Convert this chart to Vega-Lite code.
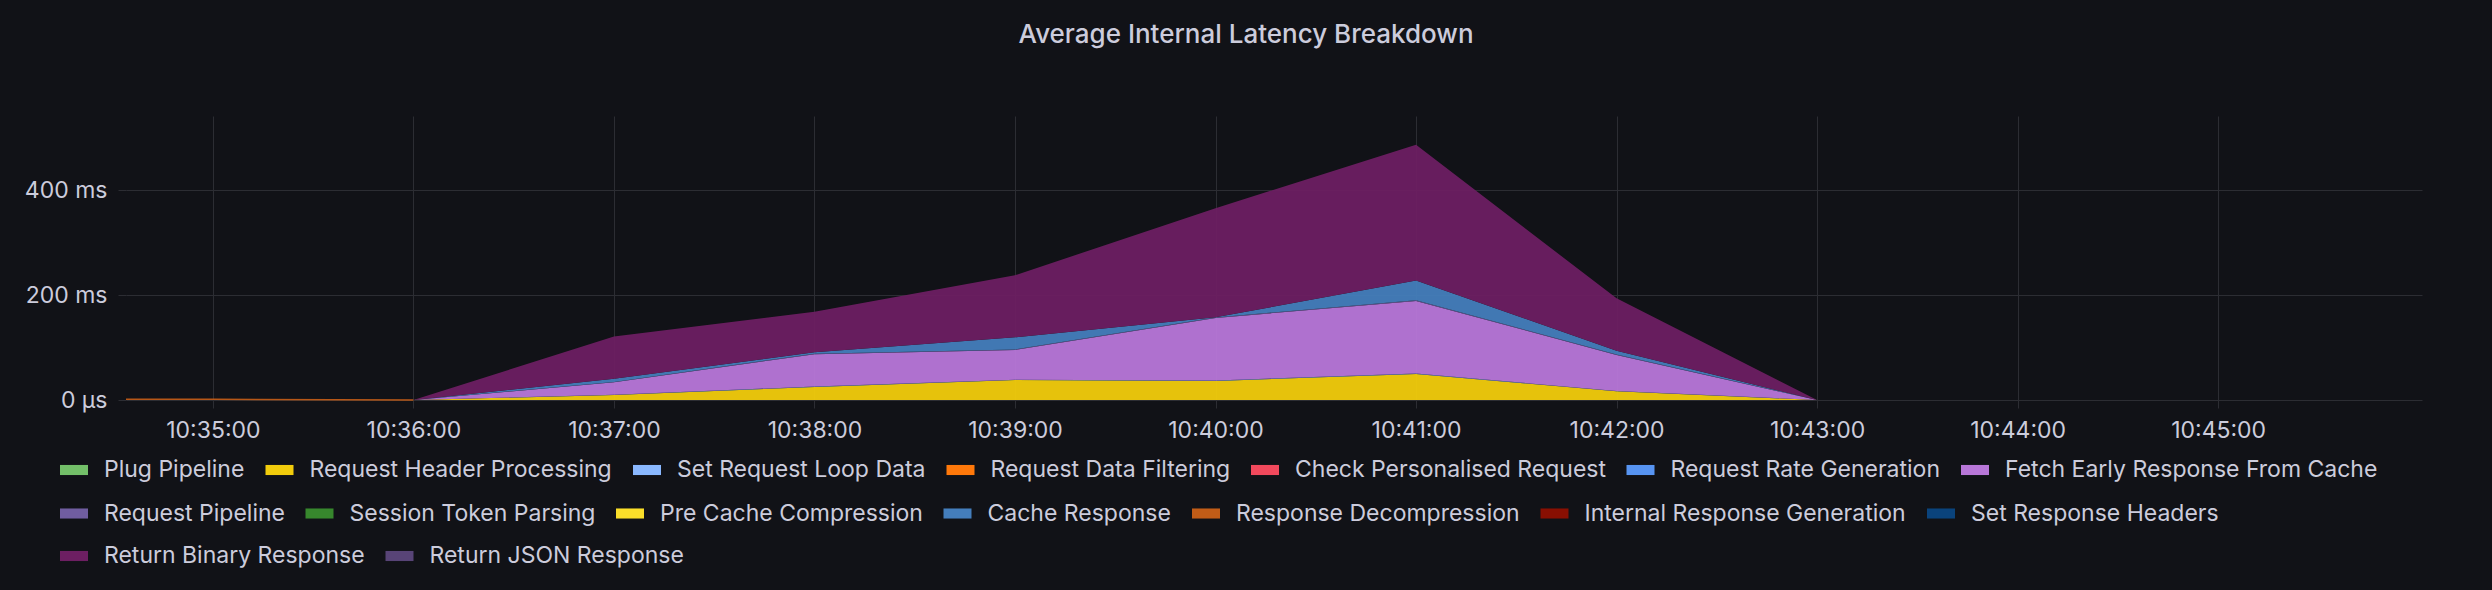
{
  "$schema": "https://vega.github.io/schema/vega-lite/v6.json",
  "width": 2296,
  "height": 284,
  "autosize": {"type": "none"},
  "padding": {"left": 126, "top": 116, "right": 70, "bottom": 190},
  "background": "#111217",
  "title": {
    "text": "Average Internal Latency Breakdown",
    "font": "Inter",
    "fontSize": 26,
    "fontWeight": 500,
    "color": "#ccccdc",
    "anchor": "middle",
    "frame": "group",
    "dx": -28,
    "offset": 68
  },
  "config": {
    "view": {"stroke": null},
    "axis": {
      "labelFont": "Inter",
      "labelFontSize": 23,
      "labelColor": "#ccccdc",
      "gridColor": "#2c2d33",
      "tickColor": "#2c2d33",
      "domain": false
    },
    "legend": {
      "labelFont": "Inter",
      "labelFontSize": 23,
      "labelColor": "#ccccdc",
      "labelLimit": 0,
      "title": null,
      "orient": "none",
      "legendX": -66,
      "direction": "horizontal",
      "columns": 7,
      "columnPadding": 20.5,
      "padding": 0,
      "symbolType": "M-1,-0.36H1V0.36H-1Z",
      "symbolSize": 784,
      "symbolStrokeWidth": 0,
      "symbolOpacity": 1,
      "labelOffset": 16
    }
  },
  "data": {
    "values": [
      {"t": "2024-01-01T10:36:00Z", "series": "Request Header Processing", "v": 0},
      {"t": "2024-01-01T10:37:00Z", "series": "Request Header Processing", "v": 9.5},
      {"t": "2024-01-01T10:38:00Z", "series": "Request Header Processing", "v": 25},
      {"t": "2024-01-01T10:39:00Z", "series": "Request Header Processing", "v": 38},
      {"t": "2024-01-01T10:40:00Z", "series": "Request Header Processing", "v": 36.3},
      {"t": "2024-01-01T10:41:00Z", "series": "Request Header Processing", "v": 49.7},
      {"t": "2024-01-01T10:42:00Z", "series": "Request Header Processing", "v": 16.5},
      {"t": "2024-01-01T10:43:00Z", "series": "Request Header Processing", "v": 0},
      {"t": "2024-01-01T10:36:00Z", "series": "Request Rate Generation", "v": 0},
      {"t": "2024-01-01T10:37:00Z", "series": "Request Rate Generation", "v": 0.5},
      {"t": "2024-01-01T10:38:00Z", "series": "Request Rate Generation", "v": 0.8},
      {"t": "2024-01-01T10:39:00Z", "series": "Request Rate Generation", "v": 0.8},
      {"t": "2024-01-01T10:40:00Z", "series": "Request Rate Generation", "v": 0.8},
      {"t": "2024-01-01T10:41:00Z", "series": "Request Rate Generation", "v": 1},
      {"t": "2024-01-01T10:42:00Z", "series": "Request Rate Generation", "v": 0.6},
      {"t": "2024-01-01T10:43:00Z", "series": "Request Rate Generation", "v": 0},
      {"t": "2024-01-01T10:36:00Z", "series": "Fetch Early Response From Cache", "v": 0},
      {"t": "2024-01-01T10:37:00Z", "series": "Fetch Early Response From Cache", "v": 23.7},
      {"t": "2024-01-01T10:38:00Z", "series": "Fetch Early Response From Cache", "v": 61.7},
      {"t": "2024-01-01T10:39:00Z", "series": "Fetch Early Response From Cache", "v": 56.7},
      {"t": "2024-01-01T10:40:00Z", "series": "Fetch Early Response From Cache", "v": 119.5},
      {"t": "2024-01-01T10:41:00Z", "series": "Fetch Early Response From Cache", "v": 138.3},
      {"t": "2024-01-01T10:42:00Z", "series": "Fetch Early Response From Cache", "v": 68.9},
      {"t": "2024-01-01T10:43:00Z", "series": "Fetch Early Response From Cache", "v": 0},
      {"t": "2024-01-01T10:36:00Z", "series": "Request Pipeline", "v": 0},
      {"t": "2024-01-01T10:37:00Z", "series": "Request Pipeline", "v": 0.8},
      {"t": "2024-01-01T10:38:00Z", "series": "Request Pipeline", "v": 1},
      {"t": "2024-01-01T10:39:00Z", "series": "Request Pipeline", "v": 1},
      {"t": "2024-01-01T10:40:00Z", "series": "Request Pipeline", "v": 1},
      {"t": "2024-01-01T10:41:00Z", "series": "Request Pipeline", "v": 1.2},
      {"t": "2024-01-01T10:42:00Z", "series": "Request Pipeline", "v": 0.8},
      {"t": "2024-01-01T10:43:00Z", "series": "Request Pipeline", "v": 0},
      {"t": "2024-01-01T10:36:00Z", "series": "Cache Response", "v": 0},
      {"t": "2024-01-01T10:37:00Z", "series": "Cache Response", "v": 6.2},
      {"t": "2024-01-01T10:38:00Z", "series": "Cache Response", "v": 2.5},
      {"t": "2024-01-01T10:39:00Z", "series": "Cache Response", "v": 23.2},
      {"t": "2024-01-01T10:40:00Z", "series": "Cache Response", "v": 0.4},
      {"t": "2024-01-01T10:41:00Z", "series": "Cache Response", "v": 37.8},
      {"t": "2024-01-01T10:42:00Z", "series": "Cache Response", "v": 7.2},
      {"t": "2024-01-01T10:43:00Z", "series": "Cache Response", "v": 0},
      {"t": "2024-01-01T10:36:00Z", "series": "Return Binary Response", "v": 0},
      {"t": "2024-01-01T10:37:00Z", "series": "Return Binary Response", "v": 80.3},
      {"t": "2024-01-01T10:38:00Z", "series": "Return Binary Response", "v": 77.5},
      {"t": "2024-01-01T10:39:00Z", "series": "Return Binary Response", "v": 118.3},
      {"t": "2024-01-01T10:40:00Z", "series": "Return Binary Response", "v": 208},
      {"t": "2024-01-01T10:41:00Z", "series": "Return Binary Response", "v": 259},
      {"t": "2024-01-01T10:42:00Z", "series": "Return Binary Response", "v": 100},
      {"t": "2024-01-01T10:43:00Z", "series": "Return Binary Response", "v": 0},
      {"t": "2024-01-01T10:34:34Z", "series": "Response Decompression", "v": 1.5},
      {"t": "2024-01-01T10:35:00Z", "series": "Response Decompression", "v": 1.2},
      {"t": "2024-01-01T10:36:00Z", "series": "Response Decompression", "v": 0}
    ]
  },
  "encoding": {
    "x": {
      "field": "t",
      "type": "temporal",
      "scale": {
        "type": "utc",
        "domain": [1704105274000, 1704105961000]
      },
      "axis": {
        "title": null,
        "labelExpr": "utcFormat(datum.value, '%H:%M:%S')",
        "values": [1704105300000, 1704105360000, 1704105420000, 1704105480000, 1704105540000, 1704105600000, 1704105660000, 1704105720000, 1704105780000, 1704105840000, 1704105900000],
        "tickSize": 8,
        "labelPadding": 11,
        "labelFlush": false,
        "labelOverlap": false
      }
    },
    "y": {
      "field": "v",
      "type": "quantitative",
      "stack": "zero",
      "scale": {"domain": [0, 542], "nice": false},
      "axis": {
        "title": null,
        "values": [0, 200, 400],
        "labelExpr": "datum.value == 0 ? '0 µs' : datum.value + ' ms'",
        "tickSize": 8,
        "labelPadding": 11
      }
    }
  },
  "layer": [
    {
      "transform": [
        {"filter": "datum.series != 'Response Decompression'"},
        {"calculate": "indexof(['Plug Pipeline', 'Request Header Processing', 'Set Request Loop Data', 'Request Data Filtering', 'Check Personalised Request', 'Request Rate Generation', 'Fetch Early Response From Cache', 'Request Pipeline', 'Session Token Parsing', 'Pre Cache Compression', 'Cache Response', 'Response Decompression', 'Internal Response Generation', 'Set Response Headers', 'Return Binary Response', 'Return JSON Response'], datum.series)", "as": "stack_rank"}
      ],
      "mark": {"type": "area", "fillOpacity": 0.95, "interpolate": "linear"},
      "encoding": {
        "order": {"field": "stack_rank", "type": "quantitative", "sort": "ascending"},
        "color": {
          "field": "series",
          "type": "nominal",
          "scale": {
            "domain": ["Plug Pipeline", "Request Header Processing", "Set Request Loop Data", "Request Data Filtering", "Check Personalised Request", "Request Rate Generation", "Fetch Early Response From Cache", "Request Pipeline", "Session Token Parsing", "Pre Cache Compression", "Cache Response", "Response Decompression", "Internal Response Generation", "Set Response Headers", "Return Binary Response", "Return JSON Response"],
            "range": ["#73BF69", "#F2CC0C", "#8AB8FF", "#FF780A", "#F2495C", "#5794F2", "#B877D9", "#705DA0", "#37872D", "#FADE2A", "#447EBC", "#C15C17", "#890F02", "#0A437C", "#6D1F62", "#584477"]
          },
          "legend": null
        }
      }
    },
    {
      "transform": [{"filter": "datum.series == 'Response Decompression'"}],
      "mark": {"type": "line", "strokeWidth": 1.5, "color": "#C15C17", "opacity": 0.95},
      "encoding": {
        "y": {"field": "v", "type": "quantitative", "stack": null}
      }
    },
    {
      "transform": [{"filter": "false"}],
      "mark": {"type": "area"},
      "encoding": {
        "color": {
          "field": "series",
          "type": "nominal",
          "scale": {
            "domain": ["Plug Pipeline", "Request Header Processing", "Set Request Loop Data", "Request Data Filtering", "Check Personalised Request", "Request Rate Generation", "Fetch Early Response From Cache"],
            "range": ["#73BF69", "#F2CC0C", "#8AB8FF", "#FF780A", "#F2495C", "#5794F2", "#B877D9"]
          },
          "legend": {"legendY": 340}
        }
      }
    },
    {
      "transform": [{"filter": "false"}],
      "mark": {"type": "area"},
      "encoding": {
        "color": {
          "field": "series",
          "type": "nominal",
          "scale": {
            "domain": ["Request Pipeline", "Session Token Parsing", "Pre Cache Compression", "Cache Response", "Response Decompression", "Internal Response Generation", "Set Response Headers"],
            "range": ["#705DA0", "#37872D", "#FADE2A", "#447EBC", "#C15C17", "#890F02", "#0A437C"]
          },
          "legend": {"legendY": 383.5}
        }
      }
    },
    {
      "transform": [{"filter": "false"}],
      "mark": {"type": "area"},
      "encoding": {
        "color": {
          "field": "series",
          "type": "nominal",
          "scale": {
            "domain": ["Return Binary Response", "Return JSON Response"],
            "range": ["#6D1F62", "#584477"]
          },
          "legend": {"legendY": 426}
        }
      }
    }
  ],
  "resolve": {"scale": {"color": "independent"}, "legend": {"color": "independent"}}
}
